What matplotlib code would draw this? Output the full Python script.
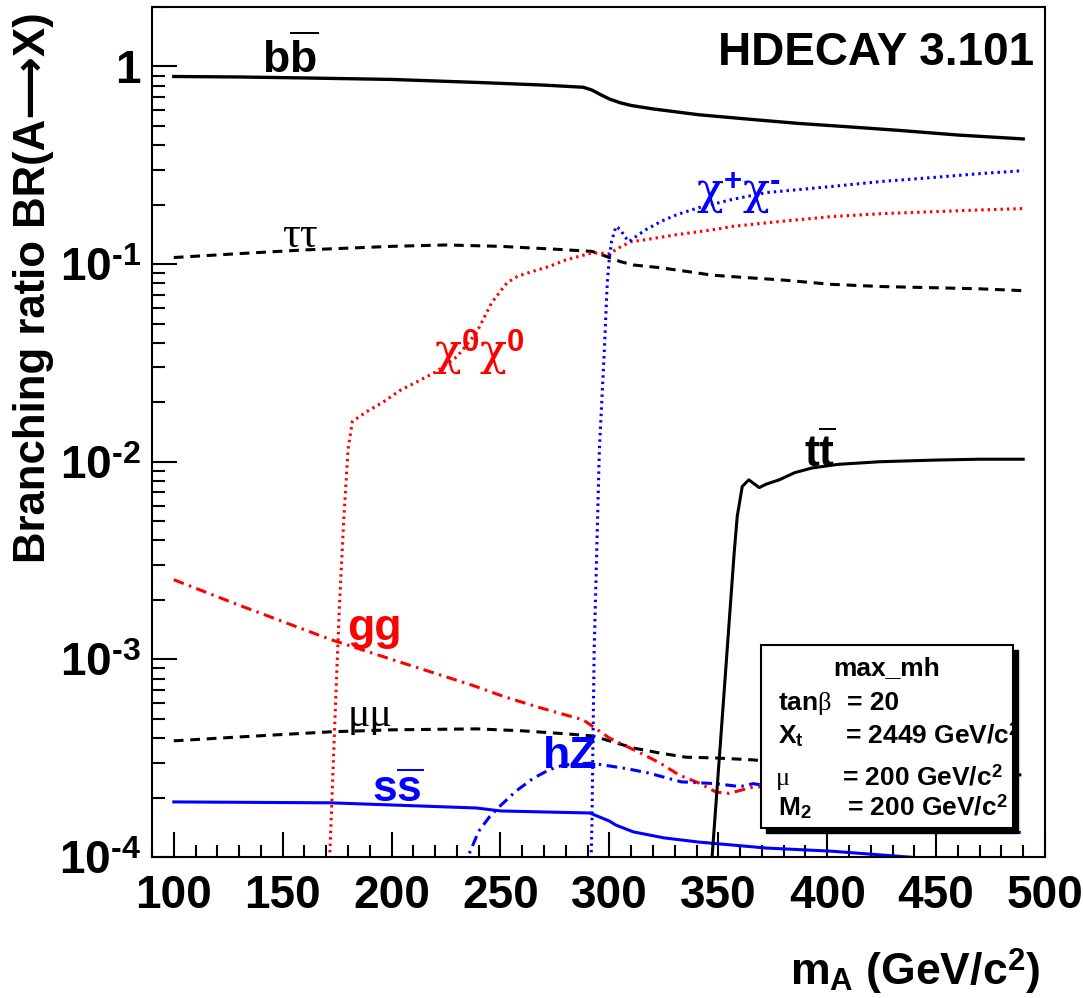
#-----------------------------------------------------------------
# A -> X branching ratios vs m_A (HDECAY, max_mh scenario)
#-----------------------------------------------------------------

import matplotlib.pyplot as plt
import matplotlib.patches as patches
from matplotlib.ticker import MultipleLocator, LogLocator, NullFormatter
import numpy as np

plt.rcParams['font.family'] = 'Liberation Sans'
plt.rcParams['mathtext.fontset'] = 'custom'
plt.rcParams['mathtext.rm'] = 'Liberation Serif'
plt.rcParams['mathtext.it'] = 'Liberation Serif:italic'
plt.rcParams['mathtext.bf'] = 'Liberation Sans:bold'
plt.rcParams['mathtext.sf'] = 'Liberation Sans'

#============= Data =============

bb_x = [100, 130, 160, 200, 240, 270, 288, 292, 296, 300, 305, 310, 320, 341, 365, 387, 410, 433, 460, 490]
bb_br = [0.89, 0.885, 0.875, 0.86, 0.83, 0.805, 0.785, 0.76, 0.72, 0.685, 0.655, 0.635, 0.61, 0.57,
         0.54, 0.515, 0.495, 0.475, 0.45, 0.43]

tau_x = [100, 130, 160, 200, 225, 250, 275, 292, 296, 300, 305, 311, 323, 335, 347, 356, 380, 402,
         425, 448, 470, 490]
tau_br = [0.108, 0.113, 0.118, 0.123, 0.125, 0.123, 0.119, 0.116, 0.112, 0.108, 0.103, 0.099, 0.096,
          0.092, 0.088, 0.0865, 0.083, 0.079, 0.077, 0.076, 0.075, 0.0734]

mu_x = [100, 130, 172, 200, 239, 260, 280, 292, 299, 311, 323, 335, 349, 366, 400, 448, 490]
mu_br = [3.87e-4, 4.05e-4, 4.3e-4, 4.4e-4, 4.45e-4, 4.35e-4, 4.2e-4, 4.1e-4, 3.9e-4, 3.56e-4, 3.36e-4,
         3.2e-4, 3.17e-4, 3.1e-4, 2.85e-4, 2.7e-4, 2.6e-4]

ss_x = [100, 172, 239, 250, 270, 291, 300, 303, 311, 325, 341, 372, 402, 437, 460, 490]
ss_br = [1.9e-4, 1.88e-4, 1.77e-4, 1.71e-4, 1.69e-4, 1.67e-4, 1.52e-4, 1.45e-4, 1.34e-4, 1.25e-4,
         1.19e-4, 1.11e-4, 1.07e-4, 1.0e-4, 9.6e-5, 9.2e-5]

gg_x = [100, 130, 172, 200, 237, 252, 268, 288, 300, 314, 323, 332, 341, 349, 355, 366, 390, 420, 460, 490]
gg_br = [2.53e-3, 1.88e-3, 1.26e-3, 1.0e-3, 7.4e-4, 6.46e-4, 5.7e-4, 4.94e-4, 4.0e-4, 3.37e-4, 3.0e-4,
         2.6e-4, 2.37e-4, 2.13e-4, 2.1e-4, 2.26e-4, 2.3e-4, 2.3e-4, 2.3e-4, 2.28e-4]

hz_x = [230, 235, 240, 245, 250, 257, 265, 272, 278, 285, 292, 299, 308, 318, 333, 349, 360, 366,
        400, 450, 490]
hz_br = [5e-5, 1.0e-4, 1.35e-4, 1.6e-4, 1.82e-4, 2.15e-4, 2.5e-4, 2.75e-4, 2.9e-4, 2.97e-4, 2.98e-4,
         2.9e-4, 2.8e-4, 2.66e-4, 2.4e-4, 2.35e-4, 2.27e-4, 2.35e-4, 2.05e-4, 1.62e-4, 1.32e-4]

chi0_x = [170.5, 172, 174, 176, 178, 180, 182, 188.5, 196, 204, 212, 220.6, 230, 239, 246, 253, 258,
          265, 272, 280, 292, 300, 305, 310, 315, 331, 349, 356, 380, 402, 425, 448, 470, 490]
chi0_br = [5e-5, 1.3e-4, 5e-4, 1.8e-3, 5e-3, 1.15e-2, 1.6e-2, 1.79e-2, 2.0e-2, 2.3e-2, 2.55e-2, 2.86e-2,
           3.4e-2, 4.5e-2, 6.4e-2, 8.05e-2, 8.7e-2, 9.2e-2, 9.7e-2, 0.105, 0.114, 0.113, 0.122, 0.13,
           0.132, 0.141, 0.15, 0.155, 0.165, 0.174, 0.18, 0.184, 0.188, 0.191]

chic_x = [291, 292, 293, 295.4, 297.7, 299, 300, 301, 303, 305, 307, 309, 313, 317, 324, 331, 341,
          356, 372, 402, 425, 448, 470, 490]
chic_br = [5e-5, 1.5e-4, 1.1e-3, 1.15e-2, 3.7e-2, 8e-2, 0.108, 0.13, 0.155, 0.15, 0.138, 0.13, 0.14,
           0.15, 0.165, 0.178, 0.193, 0.212, 0.23, 0.247, 0.262, 0.274, 0.287, 0.297]

tt_x = [346.5, 349, 352, 355, 357.3, 358.7, 361, 364, 366, 368.8, 372, 378, 385, 393, 405, 424, 450,
        470, 490]
tt_br = [8e-5, 1.9e-4, 5.4e-4, 1.55e-3, 3.47e-3, 5.3e-3, 7.5e-3, 8.1e-3, 7.8e-3, 7.4e-3, 7.7e-3, 8.1e-3,
         8.8e-3, 9.3e-3, 9.7e-3, 1.0e-2, 1.02e-2, 1.03e-2, 1.03e-2]

x_ticks = [100, 150, 200, 250, 300, 350, 400, 450, 500]
y_ticks = [1e-4, 1e-3, 1e-2, 1e-1, 1]
y_tick_labels = ['10$^{\\mathbf{‐4}}$', '10$^{\\mathbf{‐3}}$', '10$^{\\mathbf{‐2}}$',
                 '10$^{\\mathbf{‐1}}$', '1']

#============= Plot =============

W, H = 1083, 998
fig = plt.figure(figsize=(W / 100, H / 100), dpi=100)
ax = fig.add_axes([152 / W, 1 - 857 / H, (1045 - 152) / W, (857 - 7) / H])
ax.set_yscale('log')

dashed = (0, (3.2, 2.2))
dotted = (0, (0.8, 1.3))
dashdot = (0, (3.5, 1.8, 0.8, 1.8))

ax.plot(bb_x, bb_br, color='k', lw=2.4)
ax.plot(tau_x, tau_br, color='k', lw=2.2, ls=dashed)
ax.plot(mu_x, mu_br, color='k', lw=2.2, ls=dashed)
ax.plot(ss_x, ss_br, color='blue', lw=2.2)
ax.plot(gg_x, gg_br, color='red', lw=2.2, ls=dashdot)
ax.plot(hz_x, hz_br, color='blue', lw=2.2, ls=dashdot)
ax.plot(chi0_x, chi0_br, color='red', lw=2.2, ls=dotted)
ax.plot(chic_x, chic_br, color='blue', lw=2.2, ls=dotted)
ax.plot(tt_x, tt_br, color='k', lw=2.2)

ax.set_xlim(90, 500)
ax.set_ylim(1e-4, 2.0)

ax.set_xticks(x_ticks)
ax.set_xticklabels([str(v) for v in x_ticks], fontweight='bold')
ax.xaxis.set_minor_locator(MultipleLocator(10))
ax.set_yticks(y_ticks)
ax.set_yticklabels(y_tick_labels, fontweight='bold')
ax.yaxis.set_minor_locator(LogLocator(base=10, subs=np.arange(2, 10) * 1.0, numticks=20))
ax.yaxis.set_minor_formatter(NullFormatter())

ax.tick_params(which='both', direction='in', top=False, right=False, width=1.5, labelsize=33)
ax.tick_params(which='major', length=18)
ax.tick_params(which='minor', length=9)
ax.tick_params(axis='x', pad=12)
ax.tick_params(axis='y', pad=8)
for s in ax.spines.values():
    s.set_linewidth(1.5)

greek = ['DejaVu Serif']

# channel labels
ax.text(140.4, 0.93, r'$\mathbf{b\overline{b}}$', fontsize=32, va='baseline')
ax.text(149.5, 0.1226, 'ττ', family='Liberation Serif', fontsize=32, va='baseline')
ax.text(219.7, 0.0309, r'χ$^{\mathbf{0}}$χ$^{\mathbf{0}}$', family=greek,
        fontsize=32, color='red', va='baseline')
ax.text(339.9, 0.2, 'χ$^{\\mathbf{+}}$χ$^{\\mathbf{‐}}$', family=greek,
        fontsize=32, color='blue', va='baseline')
ax.text(389.4, 9.4e-3, r'$\mathbf{t\overline{t}}$', fontsize=32, va='baseline')
ax.text(179.8, 1.26e-3, 'gg', fontsize=32, fontweight='bold', color='red', va='baseline')
ax.text(179.8, 4.6e-4, 'μμ', family='Liberation Serif', fontsize=30, va='baseline')
ax.text(190.8, 1.9e-4, r'$\mathbf{s\overline{s}}$', fontsize=32, color='blue', va='baseline')
ax.text(269.3, 2.83e-4, 'hZ', fontsize=32, fontweight='bold', color='blue', va='baseline')
ax.text(495, 1.02, 'HDECAY 3.101', fontsize=33, fontweight='bold', ha='right', va='baseline')

# axis titles
fig.text(34 / W, 1 - 288 / H, 'Branching ratio BR(A⟶X)', rotation=90, ha='center', va='center',
         fontsize=31.5, fontweight='bold', family=['Liberation Sans', 'DejaVu Sans'])
fig.text(1040 / W, 1 - 985 / H, r'm$_{\mathbf{A}}$ (GeV/c$^{\mathbf{2}}$)', ha='right',
         va='baseline', fontsize=32, fontweight='bold')


# parameter box with drop shadow, in pixel coordinates (top-left origin)
def px(x, y):
    return x / W, 1 - y / H


bx0, by0, bx1, by1 = 761, 645, 1013, 828
shadow = patches.Rectangle(px(bx0 + 5, by1 + 5), (bx1 - bx0) / W, (by1 - by0) / H,
                           transform=fig.transFigure, facecolor='k', edgecolor='k', zorder=1)
box = patches.Rectangle(px(bx0, by1), (bx1 - bx0) / W, (by1 - by0) / H,
                        transform=fig.transFigure, facecolor='white', edgecolor='k', lw=1.5, zorder=2)
fig.add_artist(shadow)
fig.add_artist(box)

box_kw = dict(fontsize=19, fontweight='bold', va='baseline', zorder=3)
fig.text(*px(887, 675), 'max_mh', ha='center', **box_kw)
fig.text(*px(778, 710), r'tan$\mathrm{\beta}$', **box_kw)
fig.text(*px(847, 710), '= 20', **box_kw)
fig.text(*px(778, 743), r'X$_{\mathbf{t}}$', **box_kw)
fig.text(*px(845, 743), r'= 2449 GeV/c$^{\mathbf{2}}$', **box_kw)
fig.text(*px(775, 785), r'$\mathrm{\mu}$', **box_kw)
fig.text(*px(842, 785), r'= 200 GeV/c$^{\mathbf{2}}$', **box_kw)
fig.text(*px(778, 815), r'M$_{\mathbf{2}}$', **box_kw)
fig.text(*px(847, 815), r'= 200 GeV/c$^{\mathbf{2}}$', **box_kw)

fig.savefig('out.png', dpi=100)
